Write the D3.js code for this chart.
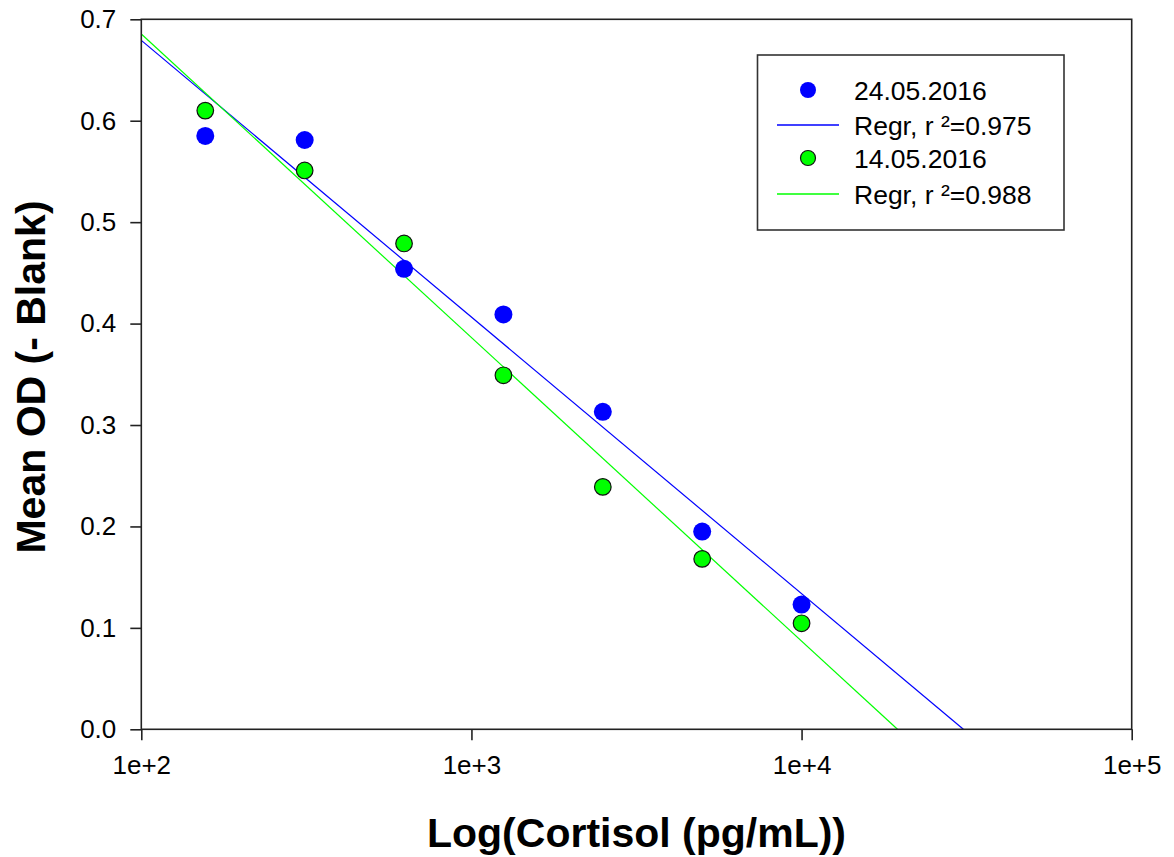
<!DOCTYPE html>
<html>
<head>
<meta charset="utf-8">
<script src="https://cdn.jsdelivr.net/npm/d3@7"></script>
<style>
  body { margin: 0; background: #fff; }
  svg text { font-family: Arial, "Liberation Sans", sans-serif; fill: #000; }
</style>
</head>
<body>
<div id="chart"></div>
<script>
// concentrations of the dilution series (pg/mL)
var conc = [156.25, 312.5, 625, 1250, 2500, 5000, 10000];
// mean OD minus blank
var od_2405 = [0.585, 0.581, 0.454, 0.409, 0.313, 0.195, 0.123];
var od_1405 = [0.610, 0.551, 0.479, 0.349, 0.239, 0.168, 0.1045];

var seriesNames = ["24.05.2016", "14.05.2016"];
var regrLabels = ["Regr, r \u00b2=0.975", "Regr, r \u00b2=0.988"];
var colors = ["#0000ff", "#00ff00"];

var yTicks = [0, 0.1, 0.2, 0.3, 0.4, 0.5, 0.6, 0.7];
var xTicks = [1e2, 1e3, 1e4, 1e5];
var xTickLabels = ["1e+2", "1e+3", "1e+4", "1e+5"];

(function () {
    var W = 1174, H = 857;
    // plot box edges
    var pL = 141.3, pR = 1131.7, pT = 19.3, pB = 729.3;

    var svg = d3.select("#chart").append("svg").attr("width", W).attr("height", H);

    var x = d3.scaleLog().domain([1e2, 1e5]).range([pL, pR]);
    var y = d3.scaleLinear().domain([0, 0.7]).range([pB, pT]);

    // least squares fit of OD against log10(conc)
    function fit(ys) {
        var xs = conc.map(function (c) { return Math.log10(c) });
        var mx = d3.mean(xs), my = d3.mean(ys);
        var sxy = 0, sxx = 0;
        xs.forEach(function (v, i) {
            sxy += (v - mx) * (ys[i] - my);
            sxx += (v - mx) * (v - mx);
        });
        var b = sxy / sxx;
        return { a: my - b * mx, b: b };
    }

    // regression lines, from the left edge down to OD = 0
    var lineGroup = svg.append("g");
    [od_2405, od_1405].forEach(function (ys, i) {
        var f = fit(ys);
        var lx0 = 2, lx1 = -f.a / f.b;
        lineGroup.append("line")
            .attr("x1", x(Math.pow(10, lx0))).attr("y1", y(f.a + f.b * lx0))
            .attr("x2", x(Math.pow(10, lx1))).attr("y2", y(0))
            .attr("stroke", colors[i]).attr("stroke-width", 1.2);
    });

    // points
    var pts = svg.append("g");
    pts.selectAll("circle.blue").data(od_2405).enter().append("circle")
        .attr("class", "blue")
        .attr("cx", function (d, i) { return x(conc[i]) })
        .attr("cy", function (d) { return y(d) })
        .attr("r", 9)
        .attr("fill", colors[0]);
    pts.selectAll("circle.green").data(od_1405).enter().append("circle")
        .attr("class", "green")
        .attr("cx", function (d, i) { return x(conc[i]) })
        .attr("cy", function (d) { return y(d) })
        .attr("r", 8.3)
        .attr("fill", colors[1])
        .attr("stroke", "#111").attr("stroke-width", 1.2);

    // frame
    svg.append("rect")
        .attr("x", pL).attr("y", pT)
        .attr("width", pR - pL).attr("height", pB - pT)
        .attr("fill", "none").attr("stroke", "#222").attr("stroke-width", 1.6);

    // axes
    var yAxis = d3.axisLeft(y).tickValues(yTicks).tickSize(11).tickPadding(14)
        .tickFormat(d3.format(".1f"));
    var gy = svg.append("g").attr("transform", "translate(" + pL + ",0)").call(yAxis);
    gy.attr("font-family", null);
    gy.select(".domain").remove();
    gy.selectAll("line").attr("stroke", "#222").attr("stroke-width", 1.6);
    gy.selectAll("text").attr("font-size", 26);

    var xAxis = d3.axisBottom(x).tickValues(xTicks).tickSize(11).tickPadding(15)
        .tickFormat(function (d, i) { return xTickLabels[i] });
    var gx = svg.append("g").attr("transform", "translate(0," + pB + ")").call(xAxis);
    gx.attr("font-family", null);
    gx.select(".domain").remove();
    gx.selectAll("line").attr("stroke", "#222").attr("stroke-width", 1.6);
    gx.selectAll("text").attr("font-size", 26);

    // axis titles
    svg.append("text")
        .attr("x", (pL + pR) / 2).attr("y", 847)
        .attr("text-anchor", "middle")
        .attr("font-size", 41).attr("font-weight", "bold")
        .text("Log(Cortisol (pg/mL))");
    svg.append("text")
        .attr("transform", "translate(45," + 377 + ") rotate(-90)")
        .attr("text-anchor", "middle")
        .attr("font-size", 41).attr("font-weight", "bold")
        .text("Mean OD (- Blank)");

    // legend
    var lg = svg.append("g");
    lg.append("rect")
        .attr("x", 757.5).attr("y", 55).attr("width", 306.5).attr("height", 175)
        .attr("fill", "#fff").attr("stroke", "#333").attr("stroke-width", 1.6);

    var rows = [
        { type: "dot", i: 0, label: seriesNames[0], cy: 90 },
        { type: "line", i: 0, label: regrLabels[0], cy: 125 },
        { type: "dot", i: 1, label: seriesNames[1], cy: 158 },
        { type: "line", i: 1, label: regrLabels[1], cy: 194 }
    ];
    rows.forEach(function (r) {
        if (r.type === "dot") {
            var c = lg.append("circle").attr("cx", 808).attr("cy", r.cy)
                .attr("r", r.i === 0 ? 8 : 7.5).attr("fill", colors[r.i]);
            if (r.i === 1) c.attr("stroke", "#111").attr("stroke-width", 1.2);
        } else {
            lg.append("line").attr("x1", 777).attr("x2", 839)
                .attr("y1", r.cy).attr("y2", r.cy)
                .attr("stroke", colors[r.i]).attr("stroke-width", 1.3);
        }
        lg.append("text").attr("x", 854).attr("y", r.cy + 9.5)
            .attr("font-size", 26.5).text(r.label);
    });
})();
</script>
</body>
</html>
